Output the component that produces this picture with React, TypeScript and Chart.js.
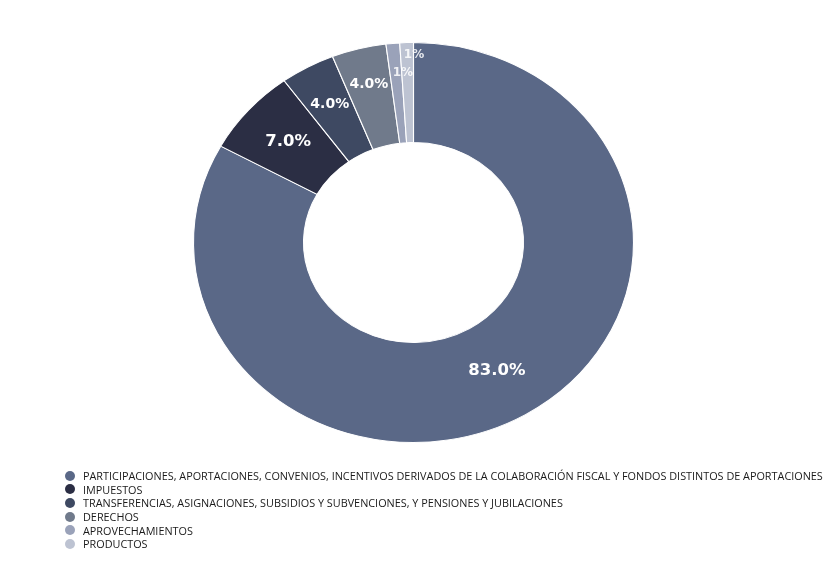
import React, { useEffect, useRef } from "react";
import { Chart, registerables } from "chart.js";

Chart.register(...registerables);

const categories = [
  "PARTICIPACIONES, APORTACIONES, CONVENIOS, INCENTIVOS DERIVADOS DE LA COLABORACIÓN FISCAL Y FONDOS DISTINTOS DE APORTACIONES",
  "IMPUESTOS",
  "TRANSFERENCIAS, ASIGNACIONES, SUBSIDIOS Y SUBVENCIONES, Y PENSIONES Y JUBILACIONES",
  "DERECHOS",
  "APROVECHAMIENTOS",
  "PRODUCTOS",
];
const values = [83, 7, 4, 4, 1, 1];
const colors = ["#5a6887", "#2b2e44", "#3e4962", "#707a8b", "#9aa2b9", "#bdc3d2"];
// radial position of each value label inside its ring slice (0 = inner edge, 1 = outer edge)
const labelRadial = [0.49, 0.52, 0.58, 0.63, 0.7, 0.88];
const labelSizes = [16.5, 16.5, 14, 14, 12, 12];

const STRETCH_X = 1.1;

function fmt(v: number) {
  return v >= 2 ? v.toFixed(1) + "%" : v + "%";
}

const stretchPlugin = {
  id: "stretchAndLabels",
  beforeDatasetsDraw(chart: any) {
    const meta = chart.getDatasetMeta(0);
    const arc = meta.data[0];
    if (!arc) return;
    const ctx = chart.ctx;
    ctx.save();
    ctx.translate(arc.x, arc.y);
    ctx.scale(STRETCH_X, 1);
    ctx.translate(-arc.x, -arc.y);
  },
  afterDatasetsDraw(chart: any) {
    const meta = chart.getDatasetMeta(0);
    if (!meta.data[0]) return;
    const ctx = chart.ctx;
    ctx.restore();
    ctx.save();
    ctx.textAlign = "center";
    ctx.textBaseline = "middle";
    meta.data.forEach((el: any, i: number) => {
      const mid = (el.startAngle + el.endAngle) / 2;
      const r = el.innerRadius + labelRadial[i] * (el.outerRadius - el.innerRadius);
      const small = values[i] < 2;
      const x = el.x + Math.cos(mid) * r * STRETCH_X + (small ? 7 : 0);
      const y = el.y + Math.sin(mid) * r;
      ctx.font = `bold ${labelSizes[i]}px "DejaVu Sans", sans-serif`;
      ctx.fillStyle = small ? "rgba(255,255,255,0.85)" : "#ffffff";
      ctx.fillText(fmt(values[i]), x, y);
    });
    ctx.restore();
  },
};

export default function App() {
  const ref = useRef<HTMLCanvasElement | null>(null);
  useEffect(() => {
    if (!ref.current) return;
    const chart = new Chart(ref.current, {
      type: "doughnut",
      data: {
        labels: categories,
        datasets: [
          {
            data: values,
            backgroundColor: colors,
            borderColor: "#ffffff",
            borderWidth: 1,
            hoverOffset: 0,
          },
        ],
      },
      options: {
        animation: false,
        responsive: true,
        maintainAspectRatio: false,
        cutout: "50%",
        layout: { padding: { top: 34, bottom: 34, left: 0, right: 9 } },
        plugins: {
          legend: { display: false },
          tooltip: { enabled: false },
        },
      },
      plugins: [stretchPlugin],
    });
    return () => chart.destroy();
  }, []);

  return (
    <div style={{ position: "relative", width: 820, height: 550 }}>
      <div style={{ position: "absolute", left: 0, top: 0, width: 820, height: 469 }}>
        <canvas ref={ref} />
      </div>
      <div
        style={{
          position: "absolute",
          left: 0,
          top: 461,
          width: 820,
          overflow: "visible",
          fontFamily: '"Open Sans", sans-serif',
          fontSize: 11,
          color: "#1a1a1a",
        }}
      >
        {categories.map((c, i) => (
          <div
            key={i}
            style={{ display: "flex", alignItems: "center", height: 13.6, whiteSpace: "nowrap" }}
          >
            <span
              style={{
                display: "inline-block",
                width: 10,
                height: 10,
                borderRadius: "50%",
                background: colors[i],
                marginLeft: 57,
                marginRight: 8,
                flex: "none",
              }}
            />
            <span
              style={{
                display: "inline-block",
                flex: "none",
                transform: "scaleX(0.985)",
                transformOrigin: "left center",
              }}
            >
              {c}
            </span>
          </div>
        ))}
      </div>
    </div>
  );
}
